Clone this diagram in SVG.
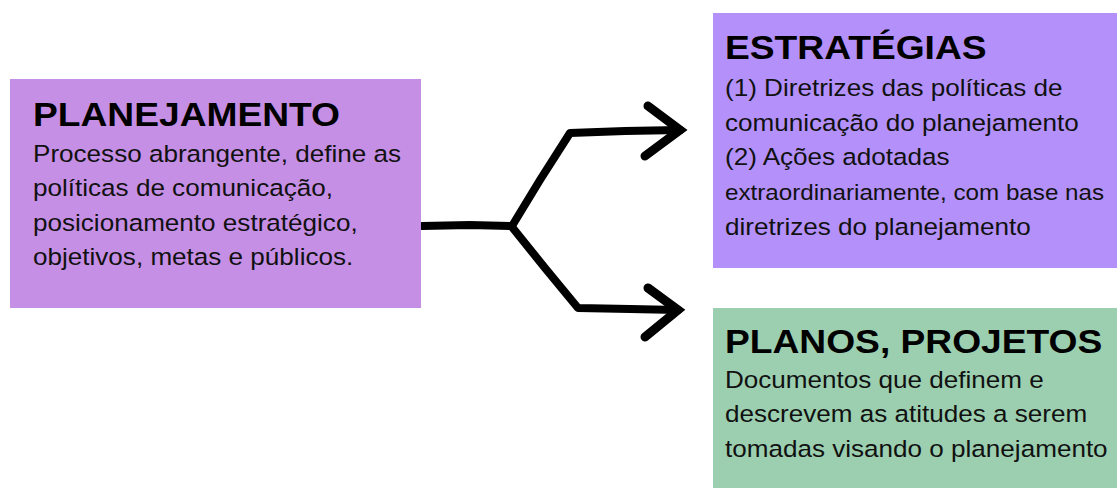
<svg xmlns="http://www.w3.org/2000/svg" width="1117" height="488" viewBox="0 0 1117 488">
<style>
.title{font-family:"Liberation Sans",Arial,sans-serif;font-weight:bold;font-size:33.5px;fill:#000}
.body{font-family:"Liberation Sans",Arial,sans-serif;font-size:23.5px;fill:#111}
.conn{fill:none;stroke:#000;stroke-width:8;stroke-linecap:round;stroke-linejoin:round}
.head{fill:none;stroke:#000;stroke-width:9;stroke-linecap:round;stroke-linejoin:miter}
</style>
<rect width="1117" height="488" fill="#fff"/>
<g id="connectors">
<path class="conn" d="M422,226 L470,225 L512,226"/>
<path class="conn" d="M512,226 L540,180 L570,133 L625,131 L680,130"/>
<path class="conn" d="M512,227 L545,268 L578,308 L630,309 L678,310"/>
<path class="head" d="M648,106 L680,130 L645,156"/>
<path class="head" d="M648,288 L678,310 L645,337"/>
</g>
<g id="planejamento">
<rect x="10" y="79" width="411" height="229" fill="#c68fe6"/>
<g transform="translate(33,0) scale(1.11,1)">
<text class="title" x="0" y="126">PLANEJAMENTO</text>
<text class="body" x="0" y="162">Processo abrangente, define as</text>
<text class="body" x="0" y="196.5">políticas de comunicação,</text>
<text class="body" x="0" y="231">posicionamento estratégico,</text>
<text class="body" x="0" y="265.5">objetivos, metas e públicos.</text>
</g>
</g>
<g id="estrategias">
<rect x="713" y="13" width="404" height="255" fill="#b491fa"/>
<g transform="translate(725,0) scale(1.11,1)">
<text class="title" x="0" y="59.5">ESTRATÉGIAS</text>
<text class="body" x="0" y="96">(1) Diretrizes das políticas de</text>
<text class="body" x="0" y="130.7">comunicação do planejamento</text>
<text class="body" x="0" y="165.4">(2) Ações adotadas</text>
<text class="body" x="0" y="200" style="font-size:21.8px">extraordinariamente, com base nas</text>
<text class="body" x="0" y="234.7">diretrizes do planejamento</text>
</g>
</g>
<g id="planos">
<rect x="713" y="308" width="404" height="180" fill="#9ccfb0"/>
<g transform="translate(725,0) scale(1.11,1)">
<text class="title" x="0" y="353.5">PLANOS, PROJETOS</text>
<text class="body" x="0" y="388">Documentos que definem e</text>
<text class="body" x="0" y="422.5">descrevem as atitudes a serem</text>
<text class="body" x="0" y="457">tomadas visando o planejamento</text>
</g>
</g>
</svg>
